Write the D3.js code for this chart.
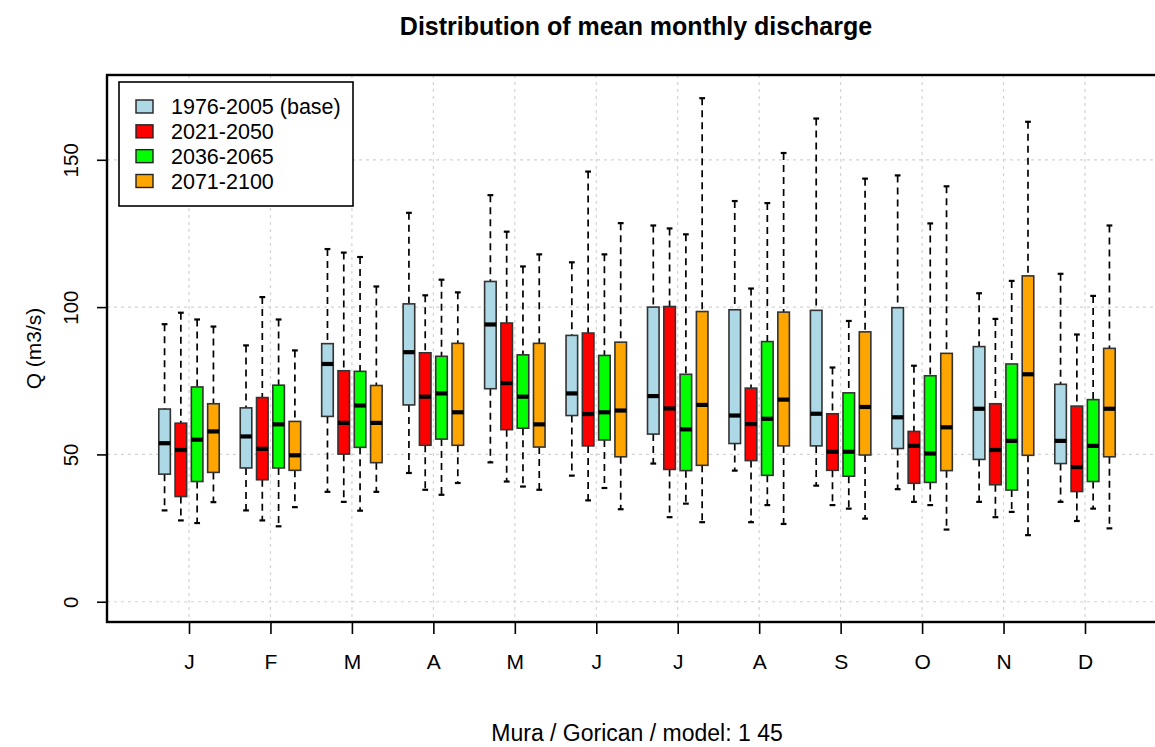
<!DOCTYPE html>
<html>
<head>
<meta charset="utf-8">
<script src="https://cdn.jsdelivr.net/npm/d3@7"></script>
<style>
  html, body { margin: 0; padding: 0; background: #fff; }
  svg { display: block; font-family: "Liberation Sans", Arial, sans-serif; }
</style>
</head>
<body>
<svg id="chart" width="1155" height="747"></svg>
<script>
// Month labels on the x axis
const months = ["J", "F", "M", "A", "M", "J", "J", "A", "S", "O", "N", "D"];
// Periods shown side by side in each month
const periods = ["1976-2005 (base)", "2021-2050", "2036-2065", "2071-2100"];
const periodColors = ["#ADD8E6", "#FF0000", "#00FF00", "#FFA500"];
const yTicks = [0, 50, 100, 150];

// Box statistics per month: [lower whisker, Q1, median, Q3, upper whisker] in m3/s
const base19762005 = [
  [31.0, 43.3, 53.8, 65.4, 94.2],
  [31.0, 45.4, 56.1, 65.8, 87.0],
  [37.3, 62.9, 80.7, 87.6, 119.7],
  [43.7, 66.8, 84.7, 101.1, 132.0],
  [47.3, 72.3, 94.1, 108.7, 138.0],
  [42.8, 63.2, 70.7, 90.4, 115.2],
  [46.9, 56.9, 69.8, 100.0, 127.7],
  [44.5, 53.7, 63.2, 99.1, 136.0],
  [39.4, 52.9, 63.8, 98.9, 164.0],
  [38.2, 52.0, 62.6, 99.8, 144.7],
  [33.9, 48.3, 65.5, 86.6, 104.7],
  [33.9, 46.9, 54.6, 73.8, 111.3]
];
const period20212050 = [
  [27.6, 35.7, 51.5, 60.6, 98.1],
  [27.6, 41.4, 51.9, 69.3, 103.4],
  [33.9, 50.1, 60.7, 78.4, 118.5],
  [38.0, 53.1, 69.6, 84.5, 104.0],
  [40.8, 58.4, 74.2, 94.6, 125.6],
  [34.4, 52.9, 63.7, 91.2, 146.0],
  [28.7, 44.9, 65.6, 100.2, 126.7],
  [27.0, 47.9, 60.3, 72.5, 106.3],
  [32.8, 44.6, 50.9, 63.8, 79.5],
  [33.9, 40.2, 52.9, 57.8, 80.1],
  [28.7, 39.7, 51.5, 67.2, 96.0],
  [27.4, 37.4, 45.7, 66.4, 90.7]
];
const period20362065 = [
  [26.7, 40.8, 55.0, 72.9, 95.8],
  [25.6, 45.4, 60.2, 73.5, 95.8],
  [30.9, 52.4, 66.6, 78.2, 117.0],
  [36.3, 55.2, 70.7, 83.3, 109.3],
  [39.1, 58.9, 69.6, 83.8, 113.8],
  [38.6, 54.9, 64.3, 83.6, 117.9],
  [33.3, 44.5, 58.5, 77.2, 124.7],
  [32.8, 42.9, 62.1, 88.3, 135.3],
  [31.6, 42.6, 50.9, 70.9, 95.3],
  [32.8, 40.5, 50.3, 76.7, 128.4],
  [30.5, 37.9, 54.6, 80.7, 108.9],
  [31.6, 40.8, 52.9, 68.6, 103.8]
];
const period20712100 = [
  [33.8, 43.9, 57.8, 67.2, 93.4],
  [32.1, 44.6, 49.7, 61.2, 85.3],
  [37.3, 47.2, 60.7, 73.4, 107.0],
  [40.3, 53.1, 64.3, 87.7, 105.0],
  [38.0, 52.5, 60.2, 87.7, 117.9],
  [31.4, 49.2, 64.9, 88.1, 128.5],
  [27.0, 46.3, 66.8, 98.5, 170.9],
  [26.4, 52.9, 68.6, 98.3, 152.3],
  [28.2, 49.8, 66.1, 91.6, 143.6],
  [24.5, 44.5, 59.2, 84.3, 141.0],
  [22.6, 49.7, 77.2, 110.6, 162.9],
  [24.9, 49.2, 65.5, 86.0, 127.7]
];
const seriesStats = [base19762005, period20212050, period20362065, period20712100];

const titleText = "Distribution of mean monthly discharge";
const yLabelText = "Q (m3/s)";
const subText = "Mura / Gorican / model: 1 45";

// ---- layout ----
const svg = d3.select("#chart");
const plot = { left: 107, top: 75, bottom: 622, right: 1165 };

// Box slots: each month occupies 5 slots, 4 boxes + 1 gap; month centre at slot 2.5
const slotsPerMonth = 5;
const x = d3.scaleLinear()
  .domain([2.5, 2.5 + slotsPerMonth * (months.length - 1)])
  .range([189, 1085]);
const monthCenter = i => x(i * slotsPerMonth + 2.5);
const boxCenter = (i, k) => x(i * slotsPerMonth + 1 + k);
const boxW = x(0.71) - x(0);

// R-style axis extension of 4% around the data range
const allVals = seriesStats.flat(2);
const dMin = 0, dMax = d3.max(allVals) + 1;
const pad = 0.04 * (dMax - dMin);
const y = d3.scaleLinear().domain([dMin - pad, dMax + pad]).range([plot.bottom, plot.top]);

// ---- grid ----
const grid = svg.append("g").attr("stroke", "#d3d3d3").attr("stroke-width", 1.2)
  .attr("stroke-dasharray", "3,4");
grid.selectAll("line.h").data(yTicks).join("line")
  .attr("x1", plot.left).attr("x2", plot.right)
  .attr("y1", d => y(d)).attr("y2", d => y(d));
grid.selectAll("line.v").data(months).join("line")
  .attr("x1", (d, i) => monthCenter(i)).attr("x2", (d, i) => monthCenter(i))
  .attr("y1", plot.top).attr("y2", plot.bottom);

// ---- boxes ----
const boxes = svg.append("g");
seriesStats.forEach((stats, k) => {
  const g = boxes.append("g");
  const items = stats.map((s, i) => ({ i, lo: s[0], q1: s[1], med: s[2], q3: s[3], hi: s[4] }));
  const grp = g.selectAll("g").data(items).join("g");
  // whiskers
  grp.append("line")
    .attr("x1", d => boxCenter(d.i, k)).attr("x2", d => boxCenter(d.i, k))
    .attr("y1", d => y(d.hi)).attr("y2", d => y(d.q3))
    .attr("stroke", "#000").attr("stroke-width", 1.7).attr("stroke-dasharray", "7,5");
  grp.append("line")
    .attr("x1", d => boxCenter(d.i, k)).attr("x2", d => boxCenter(d.i, k))
    .attr("y1", d => y(d.q1)).attr("y2", d => y(d.lo))
    .attr("stroke", "#000").attr("stroke-width", 1.7).attr("stroke-dasharray", "7,5");
  // staples
  ["hi", "lo"].forEach(key => {
    grp.append("line")
      .attr("x1", d => boxCenter(d.i, k) - boxW / 4).attr("x2", d => boxCenter(d.i, k) + boxW / 4)
      .attr("y1", d => y(d[key])).attr("y2", d => y(d[key]))
      .attr("stroke", "#000").attr("stroke-width", 2.2);
  });
  // box
  grp.append("rect")
    .attr("x", d => boxCenter(d.i, k) - boxW / 2).attr("width", boxW)
    .attr("y", d => y(d.q3)).attr("height", d => y(d.q1) - y(d.q3))
    .attr("fill", periodColors[k]).attr("stroke", "#333").attr("stroke-width", 1.6);
  // median
  grp.append("line")
    .attr("x1", d => boxCenter(d.i, k) - boxW / 2).attr("x2", d => boxCenter(d.i, k) + boxW / 2)
    .attr("y1", d => y(d.med)).attr("y2", d => y(d.med))
    .attr("stroke", "#000").attr("stroke-width", 4.2);
});

// ---- frame ----
svg.append("rect")
  .attr("x", plot.left).attr("y", plot.top)
  .attr("width", plot.right - plot.left).attr("height", plot.bottom - plot.top)
  .attr("fill", "none").attr("stroke", "#000").attr("stroke-width", 2.4);

// ---- axes ----
const yAxis = d3.axisLeft(y).tickValues(yTicks).tickSize(10).tickPadding(0).tickFormat(d3.format("d"));
const yg = svg.append("g").attr("transform", `translate(${plot.left},0)`).call(yAxis);
yg.select(".domain").remove();
yg.selectAll(".tick line").attr("stroke", "#000").attr("stroke-width", 1.6);
yg.selectAll(".tick text")
  .attr("x", null).attr("dy", null)
  .attr("transform", "translate(-29,0) rotate(-90)")
  .attr("text-anchor", "middle")
  .attr("dominant-baseline", "auto")
  .attr("font-size", 20.5).attr("fill", "#000")
  .attr("font-family", "Liberation Sans, Arial, sans-serif");

const xAxis = d3.axisBottom(x)
  .tickValues(months.map((m, i) => i * slotsPerMonth + 2.5))
  .tickSize(12).tickPadding(0)
  .tickFormat((d, i) => months[i]);
const xg = svg.append("g").attr("transform", `translate(0,${plot.bottom})`).call(xAxis);
xg.select(".domain").remove();
xg.selectAll(".tick line").attr("stroke", "#000").attr("stroke-width", 1.6);
xg.selectAll(".tick text")
  .attr("y", 47).attr("dy", null)
  .attr("font-size", 21).attr("fill", "#000")
  .attr("font-family", "Liberation Sans, Arial, sans-serif");

// ---- titles ----
svg.append("text")
  .attr("x", 636).attr("y", 35)
  .attr("text-anchor", "middle")
  .attr("font-size", 25).attr("font-weight", "bold")
  .text(titleText);

svg.append("text")
  .attr("transform", `translate(41,${(plot.top + plot.bottom) / 2}) rotate(-90)`)
  .attr("text-anchor", "middle")
  .attr("font-size", 21)
  .text(yLabelText);

svg.append("text")
  .attr("x", 637).attr("y", 741)
  .attr("text-anchor", "middle")
  .attr("font-size", 23)
  .text(subText);

// ---- legend ----
const legend = svg.append("g");
legend.append("rect")
  .attr("x", 119).attr("y", 82).attr("width", 234).attr("height", 124)
  .attr("fill", "#fff").attr("stroke", "#000").attr("stroke-width", 1.6);
const rowY = d3.scaleLinear().domain([0, 3]).range([106.5, 181]);
const lg = legend.selectAll("g.item").data(periods).join("g");
lg.append("rect")
  .attr("x", 136).attr("y", (d, i) => rowY(i) - 6.5)
  .attr("width", 17).attr("height", 13)
  .attr("fill", (d, i) => periodColors[i]).attr("stroke", "#222").attr("stroke-width", 1.4);
lg.append("text")
  .attr("x", 171).attr("y", (d, i) => rowY(i))
  .attr("dy", "0.36em")
  .attr("font-size", 21.5)
  .text(d => d);
</script>
</body>
</html>
